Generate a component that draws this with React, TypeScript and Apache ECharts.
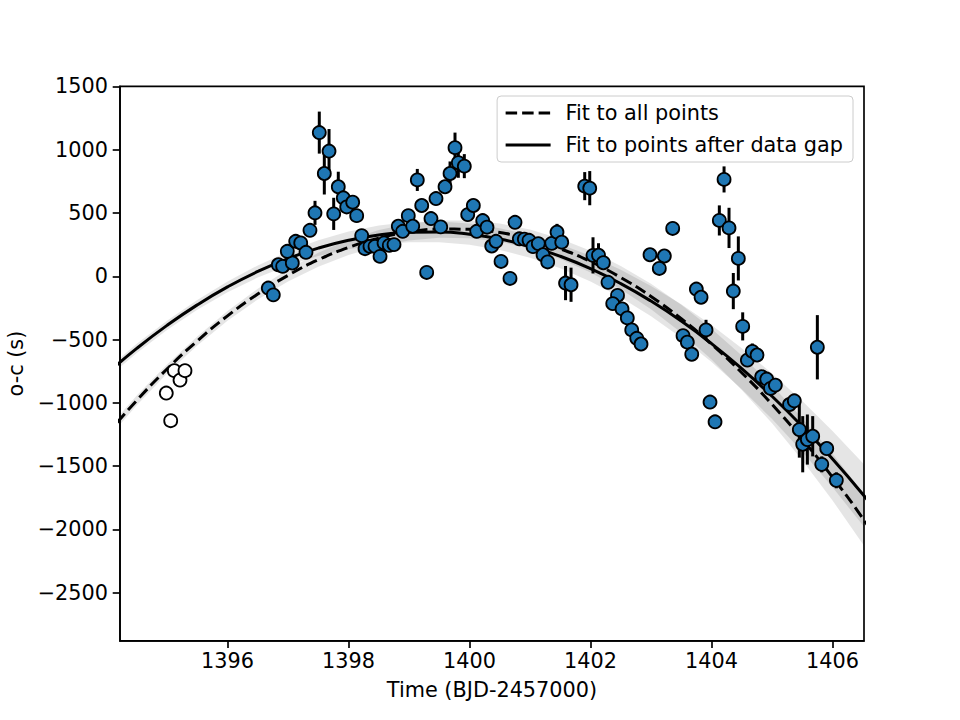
import React, { useEffect, useRef } from 'react';
import * as echarts from 'echarts';

// Tick labels
const xTicks = [1396, 1398, 1400, 1402, 1404, 1406];
const yTicks = [-2500, -2000, -1500, -1000, -500, 0, 500, 1000, 1500];

// Points before the data gap (open circles): [time, o-c]
const earlyPoints = [
  [1394.988, -923],
  [1395.061, -1141],
  [1395.121, -746],
  [1395.215, -820],
  [1395.297, -746],
];

// Points after the data gap: [time, o-c, error]
const observations = [
  [1396.674, -93, 30], [1396.757, -147, 30], [1396.840, 91, 30], [1396.912, 78, 30],
  [1397.071, 105, 30], [1396.988, 197, 30], [1397.127, 276, 30], [1397.210, 263, 30],
  [1397.297, 189, 40], [1397.363, 363, 30], [1397.446, 501, 95], [1397.517, 1135, 166],
  [1397.600, 812, 166], [1397.678, 989, 174], [1397.755, 493, 127], [1397.831, 707, 119],
  [1397.914, 620, 30], [1397.970, 548, 30], [1398.069, 585, 30], [1398.135, 479, 30],
  [1398.218, 321, 30], [1398.273, 218, 30], [1398.355, 236, 30], [1398.438, 236, 30],
  [1398.521, 157, 30], [1398.587, 263, 30], [1398.674, 244, 30], [1398.752, 250, 30],
  [1398.823, 395, 30], [1398.896, 355, 30], [1398.988, 479, 30], [1399.061, 395, 30],
  [1399.137, 761, 87], [1399.210, 559, 30], [1399.292, 30, 30], [1399.363, 456, 30],
  [1399.446, 614, 30], [1399.524, 390, 30], [1399.595, 707, 30], [1399.678, 812, 95],
  [1399.760, 1016, 119], [1399.815, 897, 119], [1399.914, 870, 95], [1399.970, 487, 30],
  [1400.063, 559, 30], [1400.119, 355, 30], [1400.218, 440, 30], [1400.289, 388, 30],
  [1400.367, 239, 30], [1400.438, 276, 30], [1400.521, 117, 30], [1400.669, -17, 30],
  [1400.752, 426, 30], [1400.823, 296, 30], [1400.906, 293, 30], [1400.984, 284, 30],
  [1401.050, 234, 30], [1401.137, 258, 30], [1401.215, 170, 30], [1401.292, 113, 30],
  [1401.359, 260, 30], [1401.446, 349, 65], [1401.524, 269, 30], [1401.587, -54, 135],
  [1401.678, -67, 135], [1401.904, 712, 111], [1401.987, 696, 135], [1402.041, 165, 143],
  [1402.132, 166, 95], [1402.212, 107, 30], [1402.289, -48, 30], [1402.446, -151, 30],
  [1402.367, -216, 30], [1402.521, -258, 30], [1402.608, -329, 30], [1402.681, -424, 30],
  [1402.764, -490, 30], [1402.835, -535, 30], [1402.983, 170, 30], [1403.220, 160, 40],
  [1403.137, 62, 30], [1403.358, 378, 30], [1403.529, -469, 30], [1403.600, -521, 30],
  [1403.673, -616, 40], [1403.749, -101, 30], [1403.827, -166, 30], [1403.909, -424, 80],
  [1403.975, -994, 30], [1404.058, -1150, 30], [1404.129, 441, 119], [1404.207, 765, 103],
  [1404.289, 382, 159], [1404.360, -117, 143], [1404.443, 141, 174], [1404.515, -396, 111],
  [1404.592, -662, 40], [1404.674, -594, 63], [1404.752, -622, 30], [1404.829, -794, 50],
  [1404.912, -812, 30], [1404.975, -886, 30], [1405.055, -860, 30], [1405.289, -1013, 30],
  [1405.368, -984, 30], [1405.451, -1211, 222], [1405.507, -1327, 222], [1405.584, -1290, 198],
  [1405.672, -1264, 159], [1405.749, -561, 254], [1405.822, -1486, 63], [1405.904, -1361, 48],
  [1406.063, -1612, 63],
];

// Fit curves
const fitX = [1394, 1394.5, 1395, 1395.5, 1396, 1396.5, 1397, 1397.5, 1398, 1398.5, 1399, 1399.5,
  1400, 1400.5, 1401, 1401.5, 1402, 1402.5, 1403, 1403.5, 1404, 1404.5, 1405, 1405.5, 1406, 1406.5, 1407];
const fitAll = [-1253, -981, -733, -511, -313, -141, 7, 130, 228, 301, 349, 373,
  371, 345, 293, 217, 116, -10, -160, -336, -536, -762, -1012, -1287, -1587, -1912, -2262];
const fitAfterGap = [-772, -570, -388, -226, -84, 38, 140, 222, 284, 326, 348, 350,
  332, 294, 236, 158, 60, -58, -196, -354, -532, -730, -948, -1186, -1444, -1722, -2020];
const bandAll = [40, 38, 36, 36, 38, 42, 48, 55, 60, 64, 66, 68,
  70, 72, 76, 80, 86, 92, 100, 110, 122, 136, 150, 166, 184, 204, 226];
const bandAfterGap = [36, 36, 36, 38, 42, 48, 55, 62, 70, 76, 80, 82,
  84, 86, 90, 95, 102, 110, 120, 132, 146, 162, 180, 200, 222, 246, 270];

const FONT = 'DejaVu Sans';
const FS = 20.8;

function bandSeries(center: number[], half: number[], fill: string) {
  const data = fitX.map((x, i) => [x, center[i] - half[i], center[i] + half[i]]);
  return {
    type: 'custom',
    silent: true,
    clip: true,
    z: 1,
    data,
    encode: { x: 0, y: [1, 2] },
    renderItem: (params: any, api: any) => {
      if (params.dataIndex !== 0) return null;
      const pts: number[][] = [];
      for (let i = 0; i < data.length; i++) pts.push(api.coord([data[i][0], data[i][2]]));
      for (let i = data.length - 1; i >= 0; i--) pts.push(api.coord([data[i][0], data[i][1]]));
      return { type: 'polygon', shape: { points: pts }, style: { fill } };
    },
  };
}

export default function App() {
  const ref = useRef<HTMLDivElement>(null);
  useEffect(() => {
    const chart = echarts.init(ref.current as HTMLDivElement, null, { renderer: 'svg' });
    const axisCommon = {
      axisLine: { show: true, onZero: false, lineStyle: { color: '#000', width: 1.67 } },
      axisTick: { show: true, length: 7.3, inside: false, lineStyle: { color: '#000', width: 1.67 } },
      splitLine: { show: false },
      nameTextStyle: { color: '#000', fontSize: FS, fontFamily: FONT },
    };
    chart.setOption({
      animation: false,
      backgroundColor: '#fff',
      grid: {
        left: 120, right: 96, top: 86.4, bottom: 79.2,
        show: true, borderColor: '#000', borderWidth: 1.67, containLabel: false,
        outerBoundsMode: 'none',
      },
      legend: {
        data: ['Fit to all points', 'Fit to points after data gap'],
        orient: 'vertical',
        right: 107,
        top: 96,
        itemWidth: 45,
        itemHeight: 14,
        itemGap: 8,
        padding: [5, 10, 5, 7],
        borderColor: '#cccccc',
        borderWidth: 1,
        borderRadius: 4,
        backgroundColor: 'rgba(255,255,255,0.8)',
        itemStyle: { opacity: 0, borderWidth: 0 },
        lineStyle: { width: 3 },
        textStyle: { color: '#000', fontSize: FS, fontFamily: FONT, lineHeight: 24, padding: [0, 0, 0, 10] },
      },
      xAxis: {
        type: 'value',
        min: 1394.223,
        max: 1406.52,
        name: 'Time (BJD-2457000)',
        nameLocation: 'middle',
        nameGap: 39,
        ...axisCommon,
        axisTick: { ...axisCommon.axisTick, customValues: xTicks },
        axisLabel: {
          customValues: xTicks,
          color: '#000', fontSize: FS, fontFamily: FONT, margin: 10,
          formatter: (v: number) => String(v),
        },
      },
      yAxis: {
        type: 'value',
        min: -2880,
        max: 1500,
        name: 'o-c (s)',
        nameLocation: 'middle',
        nameGap: 94,
        nameRotate: 90,
        ...axisCommon,
        axisTick: { ...axisCommon.axisTick, customValues: yTicks },
        axisLabel: {
          customValues: yTicks,
          color: '#000', fontSize: FS, fontFamily: FONT, margin: 12,
          formatter: (v: number) => (v < 0 ? '\u2212' + Math.abs(v) : String(v)),
        },
      },
      series: [
        bandSeries(fitAll, bandAll, 'rgba(0,0,0,0.1)'),
        bandSeries(fitAfterGap, bandAfterGap, 'rgba(0,0,0,0.1)'),
        {
          name: 'Fit to all points',
          type: 'line',
          data: fitX.map((x, i) => [x, fitAll[i]]),
          smooth: true,
          symbol: 'none',
          z: 2,
          lineStyle: { color: '#000', width: 3, type: [11.5, 5] },
          itemStyle: { color: '#000' },
        },
        {
          name: 'Fit to points after data gap',
          type: 'line',
          data: fitX.map((x, i) => [x, fitAfterGap[i]]),
          smooth: true,
          symbol: 'none',
          z: 2,
          lineStyle: { color: '#000', width: 3, type: 'solid' },
          itemStyle: { color: '#000' },
        },
        {
          type: 'custom',
          silent: true,
          z: 3,
          data: observations.map((o) => [o[0], o[1] - o[2], o[1] + o[2]]),
          encode: { x: 0, y: [1, 2] },
          renderItem: (params: any, api: any) => {
            const x = api.value(0);
            const p1 = api.coord([x, api.value(1)]);
            const p2 = api.coord([x, api.value(2)]);
            return {
              type: 'line',
              shape: { x1: p1[0], y1: p1[1], x2: p2[0], y2: p2[1] },
              style: { stroke: '#000', lineWidth: 3 },
            };
          },
        },
        {
          type: 'scatter',
          z: 4,
          symbol: 'circle',
          symbolSize: 13,
          data: observations.map((o) => [o[0], o[1]]),
          itemStyle: { color: '#1f77b4', borderColor: '#000', borderWidth: 1.8, opacity: 1 },
        },
        {
          type: 'scatter',
          z: 4,
          symbol: 'circle',
          symbolSize: 13,
          data: earlyPoints,
          itemStyle: { color: '#fff', borderColor: '#000', borderWidth: 1.8, opacity: 1 },
        },
      ],
    });
    return () => chart.dispose();
  }, []);
  return (
    <div
      ref={ref}
      style={{ position: 'absolute', left: 0, top: 0, width: 960, height: 720, background: '#fff' }}
    />
  );
}
